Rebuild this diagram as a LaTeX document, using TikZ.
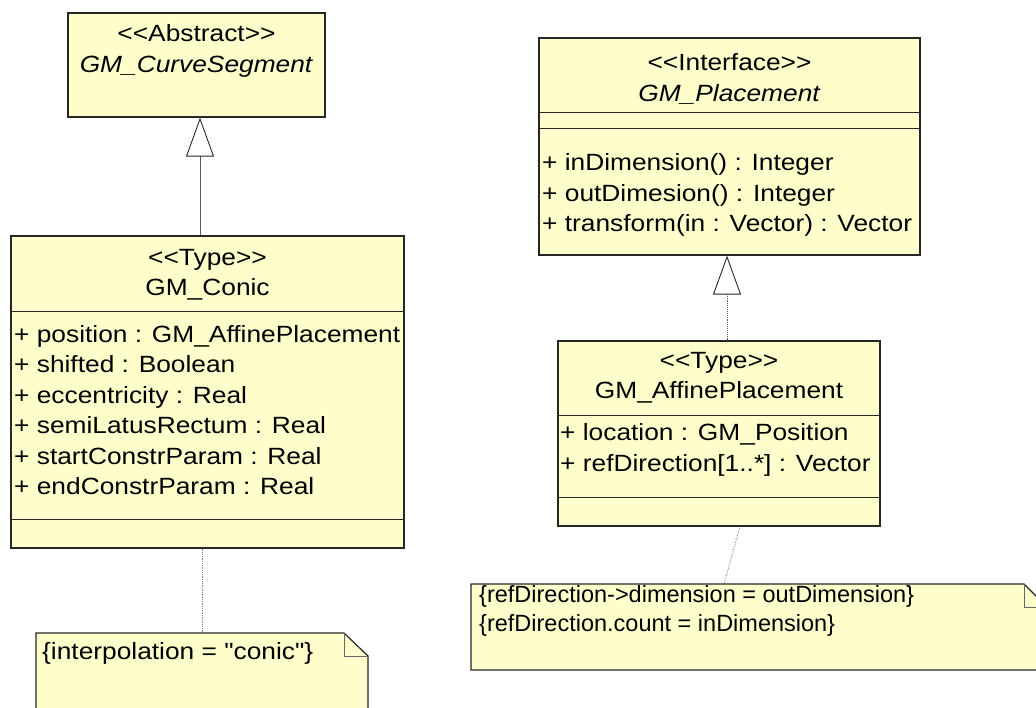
\documentclass[tikz,border=0pt]{standalone}
\usepackage{fontspec}
\newfontfamily\umlfont{Liberation Sans}[FakeStretch=1.12]
\newfontfamily\notefont{Liberation Sans}
\usetikzlibrary{arrows.meta}
\definecolor{umlyellow}{RGB}{255,255,204}

\begin{document}
\begin{tikzpicture}[x=1pt, y=-1pt,
    font=\umlfont\fontsize{23.5}{30.5}\selectfont,
    classbox/.style={draw=black!85, fill=umlyellow, line width=1.2pt, inner sep=0},
    compart/.style={draw=black!85, line width=0.9pt},
    title/.style={align=center, inner sep=0},
    members/.style={align=left, anchor=west, inner sep=0},
    notearea/.style={inner sep=0, outer sep=0},
    notebox/.style={draw=black!85, fill=umlyellow, line width=1.2pt},
    fold/.style={draw=black!60, line width=0.9pt},
    inherit/.style={draw=black!65, line width=0.9pt,
        -{Triangle[open, length=39pt, width=28pt, color=black!85]}},
    realize/.style={inherit, densely dotted},
    notelink/.style={draw=black!50, line width=0.8pt, densely dotted}
]
    \useasboundingbox (0, 0) rectangle (1036, 708);
    \clip (0, 0) rectangle (1036, 708);

    % Classes
    \node[classbox, minimum width=257, minimum height=104] (curveseg) at (196.5, 65) {};
    \node[classbox, minimum width=393, minimum height=312] (conic) at (207.5, 392) {};
    \node[classbox, minimum width=381, minimum height=217] (placement) at (729.5, 146.5) {};
    \node[classbox, minimum width=322, minimum height=185] (affine) at (719, 433.5) {};

    % Compartments
    \draw[compart] ([yshift=-76pt]conic.north west) -- ([yshift=-76pt]conic.north east);
    \draw[compart] ([yshift=29pt]conic.south west) -- ([yshift=29pt]conic.south east);
    \draw[compart] ([yshift=-75pt]placement.north west) -- ([yshift=-75pt]placement.north east);
    \draw[compart] ([yshift=-91pt]placement.north west) -- ([yshift=-91pt]placement.north east);
    \draw[compart] ([yshift=-75pt]affine.north west) -- ([yshift=-75pt]affine.north east);
    \draw[compart] ([yshift=29pt]affine.south west) -- ([yshift=29pt]affine.south east);

    % Titles
    \node[title] (curvesegname) at (196.5, 51) {<<Abstract>>\\\textit{GM\_CurveSegment}};
    \node[title] (conicname) at (207.5, 275) {<<Type>>\\GM\_Conic};
    \node[title] (placementname) at (729.5, 79) {<<Interface>>\\\textit{GM\_Placement}};
    \node[title] (affinename) at (719, 378) {<<Type>>\\GM\_AffinePlacement};

    % Members
    \node[members] (conicattrs) at (14, 410) {+ position : GM\_AffinePlacement\\
        + shifted : Boolean\\+ eccentricity : Real\\+ semiLatusRectum : Real\\
        + startConstrParam : Real\\+ endConstrParam : Real};
    \node[members] (placementops) at (542, 195) {+ inDimension() : Integer\\
        + outDimesion() : Integer\\+ transform(in : Vector) : Vector};
    \node[members] (affineattrs) at (560, 450) {+ location : GM\_Position\\
        + refDirection[1..*] : Vector};

    % Notes
    \node[notearea, minimum width=332, minimum height=87] (conicnote) at (202, 676.5) {};
    \node[notearea, minimum width=576, minimum height=86] (refnote) at (759, 627) {};
    \draw[notebox] (conicnote.north west) -- ([xshift=-24pt]conicnote.north east)
        -- ([yshift=-23pt]conicnote.north east) -- (conicnote.south east)
        -- (conicnote.south west) -- cycle;
    \draw[fold] ([xshift=-24pt]conicnote.north east) |- ([yshift=-23pt]conicnote.north east);
    \draw[notebox] (refnote.north west) -- ([xshift=-23pt]refnote.north east)
        -- ([yshift=-23pt]refnote.north east) -- (refnote.south east)
        -- (refnote.south west) -- cycle;
    \draw[fold] ([xshift=-23pt]refnote.north east) |- ([yshift=-23pt]refnote.north east);
    \node[members] (conicnotetext) at (42, 653) {\{interpolation = "conic"\}};
    \node[members, font=\notefont\fontsize{23.5}{29}\selectfont] (refnotetext) at (479, 611)
        {\{refDirection->dimension = outDimension\}\\\{refDirection.count = inDimension\}};

    % Lines
    \draw[inherit] ([xshift=-7.5pt]conic.north) -- ([xshift=3.5pt]curveseg.south);
    \draw[realize] ([xshift=8pt]affine.north) -- ([xshift=-2.5pt]placement.south);
    \draw[notelink] (conicnote.north |- conic.south) -- (conicnote.north);
    \draw[notelink] ([xshift=21pt]affine.south) -- ([xshift=-35pt]refnote.north);

\end{tikzpicture}
\end{document}
